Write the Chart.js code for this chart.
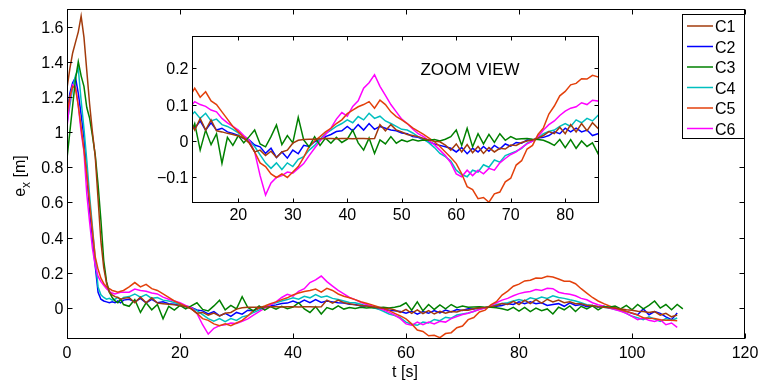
<!DOCTYPE html>
<html>
<head>
<meta charset="utf-8">
<script src="https://cdn.jsdelivr.net/npm/chart.js@4.4.0/dist/chart.umd.min.js"></script>
<style>
body{margin:0;background:#fff;}
#wrap{position:relative;width:769px;height:385px;}
#main{position:absolute;left:0;top:0;}
#zoom{position:absolute;left:140px;top:25px;}
</style>
</head>
<body>
<div id="wrap">
<canvas id="main" width="769" height="385"></canvas>
<canvas id="zoom" width="470" height="210"></canvas>
</div>
<script>
// time grid [s]
const tSec = [0,0.5,1,1.5,2,2.5,3,3.5,4,4.5,5,5.5,6,6.5,7,7.5,8,8.5,9,9.5,10,
  11,12,13,14,15,16,17,18,19,20,21,22,23,24,25,26,27,28,29,30,
  31,32,33,34,35,36,37,38,39,40,41,42,43,44,45,46,47,48,49,50,
  51,52,53,54,55,56,57,58,59,60,61,62,63,64,65,66,67,68,69,70,
  71,72,73,74,75,76,77,78,79,80,81,82,83,84,85,86,87,88,89,90,
  91,92,93,94,95,96,97,98,99,100,101,102,103,104,105,106,107,108,109];

const names = ["C1","C2","C3","C4","C5","C6"];

const c1 = [1.25,1.36,1.45,1.51,1.57,1.66,1.54,1.35,1.16,1.0,0.86,0.62,0.38,0.23,0.14,0.09,0.075,0.065,0.06,0.05,0.055,
  0.06,0.03,0.062,0.03,0.058,0.028,0.025,0.021,0.018,0.014,
  0.008,-0.005,-0.03,-0.025,-0.04,-0.028,-0.045,-0.03,-0.025,-0.006,
  0.002,0.004,0.005,0.005,0.006,0.007,0.007,0.006,0.007,0.007,
  0.006,0.007,0.007,0.006,0.007,0.045,0.028,0.045,0.03,0.025,
  0.018,0.015,0.012,0.007,0.003,-0.001,-0.002,-0.011,-0.025,-0.008,
  -0.03,-0.01,-0.032,-0.015,-0.034,-0.018,-0.03,-0.02,-0.022,-0.011,
  -0.012,-0.004,0.0,0.003,0.008,0.015,0.026,0.02,0.038,0.02,
  0.045,0.025,0.048,0.028,0.05,0.035,0.045,0.03,0.035,0.025,
  0.025,0.015,0.015,0.008,0.005,0.002,0.0,-0.005,-0.01,-0.012,
  -0.018,-0.02,-0.025,-0.02,-0.04,-0.03,-0.05,-0.04];

const c2 = [1.1,1.22,1.28,1.31,1.22,1.1,0.97,0.76,0.56,0.4,0.24,0.09,0.05,0.04,0.035,0.03,0.035,0.03,0.04,0.03,0.045,
  0.05,0.035,0.055,0.03,0.05,0.03,0.035,0.025,0.021,0.015,
  0.007,0.003,-0.011,-0.016,-0.034,-0.02,-0.045,-0.03,-0.047,-0.025,
  -0.035,-0.012,-0.015,-0.002,0.004,0.012,0.018,0.026,0.028,0.04,
  0.028,0.045,0.03,0.048,0.032,0.04,0.035,0.03,0.028,0.022,
  0.02,0.012,0.01,0.004,-0.002,-0.008,-0.012,-0.016,-0.02,-0.03,
  -0.018,-0.035,-0.02,-0.03,-0.015,-0.028,-0.012,-0.022,-0.008,-0.014,
  -0.004,-0.006,0.003,0.002,0.008,0.01,0.015,0.025,0.02,0.035,
  0.025,0.035,0.025,0.03,0.015,0.02,0.025,0.01,0.03,0.015,
  0.02,0.008,0.015,0.005,0.01,0.002,0.0,-0.01,-0.019,-0.03,
  -0.038,-0.005,-0.038,-0.02,-0.03,-0.05,-0.066,-0.028];

const c3 = [0.85,1.0,1.15,1.3,1.4,1.32,1.26,1.14,1.08,0.98,0.87,0.7,0.5,0.27,0.15,0.09,0.06,0.04,0.03,0.05,0.02,
  0.01,0.048,-0.025,0.03,-0.01,0.02,-0.061,0.01,-0.012,0.015,
  -0.005,0.012,0.03,-0.008,-0.016,0.012,0.044,-0.01,0.015,-0.005,
  0.065,0.003,-0.016,0.012,-0.012,0.008,-0.006,0.01,-0.004,0.005,
  0.03,-0.005,-0.025,0.008,-0.034,0.003,-0.008,0.012,-0.006,0.003,
  -0.002,0.004,0.0,0.003,0.002,0.004,0.0,0.005,0.012,0.03,
  -0.012,0.035,-0.016,0.02,-0.008,0.018,-0.004,0.02,0.002,0.012,
  0.005,0.006,0.007,0.005,0.004,0.002,-0.004,-0.012,0.004,-0.018,
  0.004,-0.02,0.0,-0.015,-0.005,-0.034,0.005,-0.01,0.012,-0.02,
  0.01,-0.005,0.012,-0.01,0.008,0.005,0.012,-0.005,0.015,-0.01,
  0.02,-0.005,0.015,0.04,0.0,0.02,-0.01,0.02,-0.005];

const c4 = [1.05,1.15,1.25,1.32,1.36,1.18,1.02,0.84,0.64,0.46,0.28,0.12,0.075,0.06,0.05,0.055,0.045,0.05,0.06,0.045,0.06,
  0.065,0.08,0.062,0.076,0.055,0.06,0.045,0.04,0.032,0.022,
  0.012,0.0,-0.015,-0.038,-0.06,-0.075,-0.06,-0.078,-0.06,-0.07,
  -0.05,-0.043,-0.025,-0.012,0.005,0.02,0.03,0.04,0.048,0.058,
  0.05,0.067,0.058,0.076,0.062,0.068,0.055,0.048,0.04,0.032,
  0.03,0.022,0.012,0.005,-0.005,-0.018,-0.034,-0.043,-0.055,-0.08,
  -0.092,-0.098,-0.08,-0.085,-0.065,-0.072,-0.052,-0.058,-0.04,-0.034,
  -0.028,-0.02,-0.006,0.0,0.008,0.02,0.026,0.03,0.04,0.048,
  0.04,0.058,0.05,0.062,0.055,0.07,0.06,0.055,0.047,0.04,
  0.03,0.019,0.015,0.009,0.005,0.0,-0.008,-0.015,-0.03,-0.047,
  -0.055,-0.066,-0.05,-0.062,-0.076,-0.06,-0.07,-0.057];

const c5 = [1.1,1.2,1.26,1.25,1.15,1.03,0.9,0.76,0.6,0.44,0.29,0.22,0.17,0.14,0.12,0.11,0.1,0.095,0.09,0.095,0.1,
  0.12,0.145,0.12,0.135,0.11,0.1,0.08,0.06,0.04,0.025,
  0.01,-0.005,-0.03,-0.06,-0.07,-0.09,-0.1,-0.09,-0.1,-0.085,
  -0.07,-0.045,-0.015,0.0,0.012,0.025,0.035,0.048,0.058,0.075,
  0.085,0.094,0.1,0.108,0.09,0.112,0.1,0.08,0.067,0.058,
  0.048,0.036,0.027,0.018,0.008,-0.002,-0.015,-0.03,-0.045,-0.062,
  -0.09,-0.125,-0.133,-0.158,-0.155,-0.168,-0.145,-0.14,-0.112,-0.102,
  -0.066,-0.054,-0.022,-0.012,0.018,0.036,0.074,0.096,0.124,0.136,
  0.154,0.158,0.171,0.17,0.18,0.176,0.165,0.152,0.152,0.138,
  0.11,0.085,0.06,0.04,0.025,0.012,0.0,-0.01,-0.02,-0.028,
  -0.04,-0.055,-0.058,-0.06,-0.066,-0.07,-0.07,-0.072];

const c6 = [1.03,1.18,1.27,1.26,1.15,1.0,0.89,0.65,0.49,0.34,0.24,0.18,0.15,0.13,0.11,0.095,0.085,0.08,0.085,0.09,0.09,
  0.09,0.108,0.1,0.095,0.085,0.08,0.062,0.05,0.04,0.03,
  0.015,0.003,-0.03,-0.095,-0.148,-0.115,-0.1,-0.095,-0.085,-0.088,
  -0.075,-0.062,-0.04,-0.02,0.0,0.018,0.035,0.06,0.078,0.068,
  0.095,0.11,0.145,0.16,0.182,0.15,0.125,0.1,0.08,0.06,
  0.048,0.033,0.02,0.012,0.0,-0.01,-0.025,-0.04,-0.06,-0.09,
  -0.098,-0.08,-0.095,-0.08,-0.09,-0.075,-0.08,-0.06,-0.048,-0.037,
  -0.03,-0.018,-0.008,0.0,0.012,0.03,0.045,0.055,0.07,0.082,
  0.09,0.094,0.105,0.1,0.112,0.11,0.09,0.083,0.078,0.07,
  0.055,0.047,0.03,0.019,0.01,0.0,-0.008,-0.018,-0.03,-0.047,
  -0.066,-0.057,-0.07,-0.076,-0.066,-0.095,-0.085,-0.11];

const series = [c1, c2, c3, c4, c5, c6];

// main axes ticks
const xTicks = [0,20,40,60,80,100,120];
const yTicks = [0,0.2,0.4,0.6,0.8,1,1.2,1.4,1.6];
// zoom view ticks
const zxTicks = [20,30,40,50,60,70,80];
const zyTicks = [-0.1,0,0.1,0.2];

const colors = ["#a23b0c","#0000ff","#008000","#00bfbf","#e3400b","#ff00ff"];
const stackOrder = [0,5,1,4,2,3];
const FONT = '"Liberation Sans", Arial, Helvetica, sans-serif';

function makeSets(){
    return series.map((vals, i) => ({
        label: names[i],
        data: vals.map((v, k) => ({x: tSec[k], y: v})),
        borderColor: colors[i],
        backgroundColor: colors[i],
        borderWidth: 1.5,
        pointRadius: 0,
        tension: 0,
        fill: false,
        order: stackOrder[i]
    }));
}

function fmt(v){
    return String(v).replace("-", "\u2212");
}

// box with inward ticks on all sides, matlab style
function framePlugin(id, tickLen, xLabelDrop){
    return {
        id: id,
        beforeDraw(chart){
            const a = chart.chartArea;
            const ctx = chart.ctx;
            ctx.save();
            ctx.fillStyle = "#fff";
            ctx.fillRect(a.left, a.top, a.right - a.left, a.bottom - a.top);
            ctx.restore();
        },
        afterDraw(chart){
            const ctx = chart.ctx;
            const a = chart.chartArea;
            const x = chart.scales.x, y = chart.scales.y;
            const L = Math.round(a.left) + 0.5, R = Math.round(a.right) - 0.5;
            const T = Math.round(a.top) + 0.5, B = Math.round(a.bottom) - 0.5;
            ctx.save();
            ctx.strokeStyle = "#000";
            ctx.lineWidth = 1;
            ctx.strokeRect(L, T, R - L, B - T);
            ctx.beginPath();
            x.ticks.forEach(tk => {
                const p = Math.round(x.getPixelForValue(tk.value)) + 0.5;
                ctx.moveTo(p, B); ctx.lineTo(p, B - tickLen);
                ctx.moveTo(p, T); ctx.lineTo(p, T + tickLen);
            });
            y.ticks.forEach(tk => {
                const p = Math.round(y.getPixelForValue(tk.value)) + 0.5;
                ctx.moveTo(L, p); ctx.lineTo(L + tickLen, p);
                ctx.moveTo(R, p); ctx.lineTo(R - tickLen, p);
            });
            ctx.stroke();
            ctx.fillStyle = "#000";
            ctx.font = "16px " + FONT;
            ctx.textAlign = "center";
            ctx.textBaseline = "alphabetic";
            x.ticks.forEach(tk => {
                ctx.fillText(fmt(tk.value), x.getPixelForValue(tk.value), B + xLabelDrop);
            });
            ctx.textAlign = "right";
            y.ticks.forEach(tk => {
                ctx.fillText(fmt(tk.value), L - 4, y.getPixelForValue(tk.value) + 6);
            });
            ctx.restore();
        }
    };
}

const mainExtras = {
    id: "mainExtras",
    afterDraw(chart){
        const ctx = chart.ctx;
        ctx.save();
        ctx.fillStyle = "#000";
        // x title
        ctx.font = "16px " + FONT;
        ctx.textAlign = "center";
        ctx.textBaseline = "alphabetic";
        ctx.fillText("t [s]", 405, 377);
        // y title e_x [m]
        ctx.translate(25, 176);
        ctx.rotate(-Math.PI / 2);
        ctx.textAlign = "left";
        ctx.font = "16px " + FONT;
        const wE = ctx.measureText("e").width;
        const wM = ctx.measureText(" [m]").width;
        ctx.font = "12px " + FONT;
        const wX = ctx.measureText("x").width;
        let start = -(wE + wX + wM) / 2;
        ctx.font = "16px " + FONT;
        ctx.fillText("e", start, 0);
        ctx.font = "12px " + FONT;
        ctx.fillText("x", start + wE, 5);
        ctx.font = "16px " + FONT;
        ctx.fillText(" [m]", start + wE + wX, 0);
        ctx.restore();

        // legend box
        ctx.save();
        ctx.fillStyle = "#fff";
        ctx.strokeStyle = "#000";
        ctx.lineWidth = 1;
        ctx.fillRect(682.5, 14.5, 62, 124);
        ctx.strokeRect(682.5, 14.5, 62, 124);
        ctx.font = "16px " + FONT;
        ctx.textAlign = "left";
        ctx.textBaseline = "alphabetic";
        chart.data.datasets.forEach((ds, i) => {
            const yy = 26 + i * 20.5;
            ctx.strokeStyle = ds.borderColor;
            ctx.lineWidth = 1.5;
            ctx.beginPath();
            ctx.moveTo(687, yy);
            ctx.lineTo(713, yy);
            ctx.stroke();
            ctx.fillStyle = "#000";
            ctx.fillText(ds.label, 715, yy + 6);
        });
        ctx.restore();
    }
};

const zoomText = {
    id: "zoomText",
    afterDraw(chart){
        const ctx = chart.ctx;
        ctx.save();
        ctx.fillStyle = "#000";
        ctx.font = "17px " + FONT;
        ctx.textAlign = "center";
        ctx.textBaseline = "middle";
        ctx.fillText("ZOOM VIEW", 330, 45);
        ctx.restore();
    }
};

function axisOpts(min, max, ticks, fitKey, fitVal){
    return {
        type: "linear",
        min: min,
        max: max,
        grid: {display: false, drawTicks: false},
        border: {display: false},
        ticks: {display: false},
        afterBuildTicks: s => { s.ticks = ticks.map(v => ({value: v})); },
        afterFit: s => { s[fitKey] = fitVal; }
    };
}

let mainChart = new Chart(document.getElementById("main"), {
    type: "line",
    data: {datasets: makeSets()},
    options: {
        responsive: false,
        animation: false,
        events: [],
        layout: {padding: {left: 0, right: 24, top: 9, bottom: 0}},
        plugins: {legend: {display: false}, tooltip: {enabled: false}},
        scales: {
            x: axisOpts(0, 120, xTicks, "height", 46),
            y: axisOpts(-0.176, 1.7, yTicks, "width", 67)
        }
    },
    plugins: [framePlugin("mainFrame", 5, 19), mainExtras]
});

let zoomChart = new Chart(document.getElementById("zoom"), {
    type: "line",
    data: {datasets: makeSets()},
    options: {
        responsive: false,
        animation: false,
        events: [],
        layout: {padding: {left: 0, right: 11, top: 11, bottom: 0}},
        plugins: {legend: {display: false}, tooltip: {enabled: false}},
        scales: {
            x: axisOpts(11.5, 86.2, zxTicks, "height", 32),
            y: axisOpts(-0.17, 0.288, zyTicks, "width", 52)
        }
    },
    plugins: [framePlugin("zoomFrame", 4, 17), zoomText]
});
</script>
</body>
</html>
